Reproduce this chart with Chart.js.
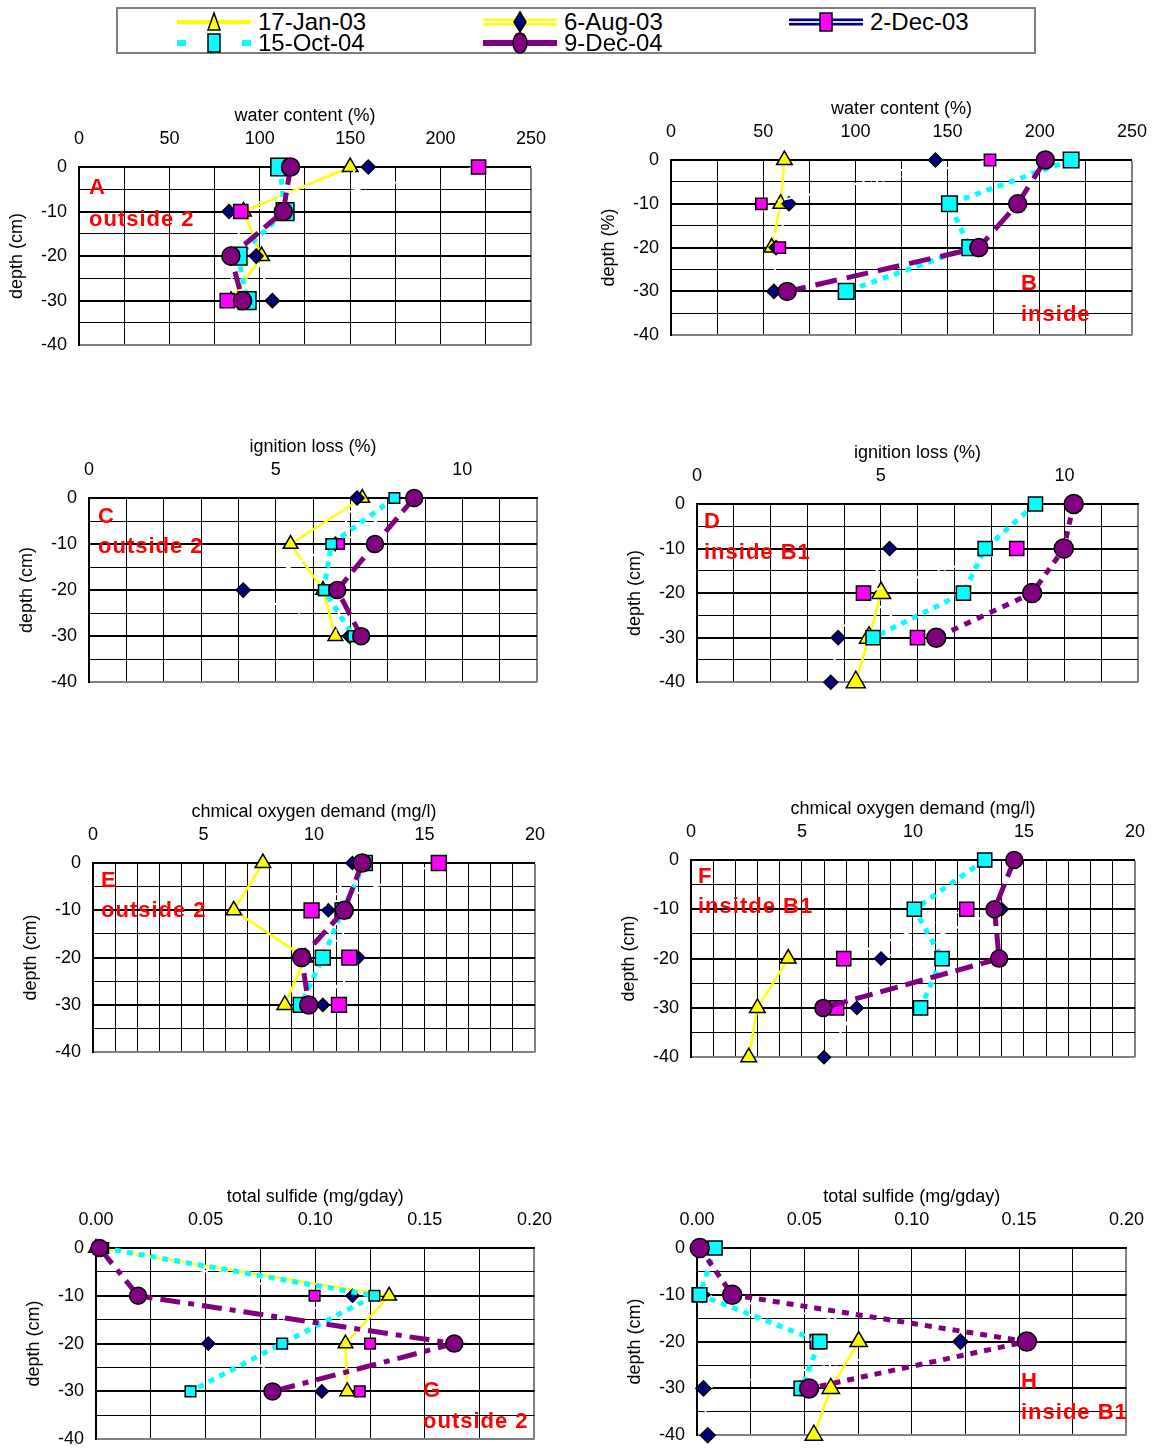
<!DOCTYPE html>
<html>
<head>
<meta charset="utf-8">
<title>sediment profiles</title>
<script src="https://cdn.jsdelivr.net/npm/chart.js@4.4.1/dist/chart.umd.min.js"></script>
<style>
  html, body { margin: 0; padding: 0; background: #fff; }
  body { position: relative; width: 1155px; height: 1448px; overflow: hidden;
         font-family: "Liberation Sans", Arial, sans-serif; }
  canvas.panel { position: absolute; }
  .tag { position: absolute; color: #ff0000; font-weight: bold; font-size: 22px;
         line-height: 22px; letter-spacing: 1px; white-space: nowrap; }
  #legend { position: absolute; left: 116px; top: 7px; width: 920px; height: 47px;
            border: 2px solid #7f7f7f; box-sizing: border-box; }
  .key { position: absolute; width: 300px; height: 24px; }
  .key canvas { position: absolute; left: 0; top: 0; }
  .key span { position: absolute; left: 84px; top: 0; font-size: 24px; line-height: 24px; white-space: nowrap; }
</style>
</head>
<body>
<div id="legend"></div>
<script>
// depth of each sample (cm)
const depths = [0, -10, -20, -30, -40];
const seriesNames = ["17-Jan-03", "6-Aug-03", "2-Dec-03", "15-Oct-04", "9-Dec-04"];

// one row per sampling date (order of seriesNames), one value per depth
const waterOutside = [
  [150, 91, 101, 84, null],
  [160, 83, 98, 107, null],
  [221, 89.5, 87, 82, null],
  [111, 114, 88, 93, null],
  [117, 113, 84, 90.5, null]
];
const waterInside = [
  [61.5, 59.5, 54.6, null, null],
  [143.4, 64, 57, 55.8, null],
  [173, 49, 59, null, null],
  [217, 151, 162, 95, null],
  [203, 188, 167, 63, null]
];
const ignitionOutside = [
  [7.32, 5.4, 6.27, 6.6, null],
  [7.18, 6.6, 4.13, 6.98, null],
  [8.7, 6.7, 6.3, 7.08, null],
  [8.18, 6.49, 6.29, 7.08, null],
  [8.71, 7.66, 6.65, 7.29, null]
];
const ignitionInside = [
  [null, null, 5.01, 4.68, 4.32],
  [null, 5.24, null, 3.84, 3.64],
  [null, 8.7, 4.53, 6.0, null],
  [9.21, 7.84, 7.25, 4.79, null],
  [10.25, 9.98, 9.12, 6.51, null]
];
const codOutside = [
  [7.69, 6.37, 9.6, 8.68, null],
  [11.74, 10.65, 12.0, 10.4, null],
  [15.65, 9.89, 11.6, 11.13, null],
  [12.3, 11.29, 10.4, 9.4, null],
  [12.18, 11.37, 9.44, 9.76, null]
];
const codInside = [
  [null, null, 4.38, 2.99, 2.6],
  [null, 14.0, 8.56, 7.47, 5.99],
  [null, 12.42, 6.88, 6.56, null],
  [13.23, 10.06, 11.31, 10.34, null],
  [14.56, 13.67, 13.88, 5.96, null]
];
const sulfideOutside = [
  [0.0, 0.1337, 0.1138, 0.1146, null],
  [0.002, 0.117, 0.0512, 0.103, null],
  [0.002, 0.0997, 0.125, 0.1203, null],
  [0.0033, 0.127, 0.0849, 0.0431, null],
  [0.0016, 0.0192, 0.1634, 0.0805, null]
];
const sulfideInside = [
  [null, null, 0.0753, 0.0623, 0.0544],
  [null, 0.0025, 0.1227, 0.003, 0.005],
  [null, 0.001, 0.056, 0.051, null],
  [0.0084, 0.0013, 0.0572, 0.0485, null],
  [0.0013, 0.0164, 0.1536, 0.0522, null]
];

const seriesStyles = [
  { line: "#ffff00", width: 2.5, dash: [], point: "triangle", fill: "#ffff00" },
  { line: "#ffffff", width: 2, dash: [10, 4, 2, 4], point: "rectRot", fill: "#000080" },
  { line: "#ffffff", width: 2, dash: [10, 4, 2, 4], point: "rect", fill: "#ff00ff" },
  { line: "#00ffff", width: 5, dash: [6, 6], point: "rect", fill: "#00ffff" },
  { line: "#800080", width: 5, dash: [18, 8], point: "circle", fill: "#800080" }
];

// plot: [left, top, right, bottom] of the plot area on the page
// pointR: marker radius per series in that panel
const panels = [
  { values: waterOutside, xMax: 250, xStep: 25, labelStep: 50, decimals: 0,
    xTitle: "water content (%)", yTitle: "depth (cm)", plot: [79, 167, 531, 346],
    purpleDash: [18, 8], pointR: [9, 7, 10, 12.5, 9],
    tags: [["A", 89, 187], ["outside 2", 89, 219]] },
  { values: waterInside, xMax: 250, xStep: 25, labelStep: 50, decimals: 0,
    xTitle: "water content (%)", yTitle: "depth (%)", plot: [671, 160, 1132, 336],
    purpleDash: [22, 10], pointR: [9, 7, 8, 11, 9],
    tags: [["B", 1021, 283], ["inside", 1021, 314]] },
  { values: ignitionOutside, xMax: 12, xStep: 1, labelStep: 5, decimals: 0,
    xTitle: "ignition loss (%)", yTitle: "depth (cm)", plot: [89, 498, 537, 683],
    purpleDash: [18, 8], pointR: [8.5, 7, 7.5, 7.5, 8.5],
    tags: [["C", 98, 516], ["outside 2", 98, 546]] },
  { values: ignitionInside, xMax: 12, xStep: 1, labelStep: 5, decimals: 0,
    xTitle: "ignition loss (%)", yTitle: "depth (cm)", plot: [697, 504, 1138, 683],
    purpleDash: [7, 7], pointR: [11, 7, 10, 10, 9.5],
    tags: [["D", 704, 521], ["inside B1", 704, 552]] },
  { values: codOutside, xMax: 20, xStep: 1, labelStep: 5, decimals: 0,
    xTitle: "chmical oxygen demand (mg/l)", yTitle: "depth (cm)", plot: [93, 863, 535, 1053],
    purpleDash: [18, 8], pointR: [9, 6.5, 10.5, 10.5, 9],
    tags: [["E", 101, 880], ["outside 2", 101, 910]] },
  { values: codInside, xMax: 20, xStep: 1, labelStep: 5, decimals: 0,
    xTitle: "chmical oxygen demand (mg/l)", yTitle: "depth (cm)", plot: [691, 860, 1135, 1058],
    purpleDash: [18, 8], pointR: [9, 6.5, 10, 10, 8.5],
    tags: [["F", 698, 876], ["insitde B1", 698, 906]] },
  { values: sulfideOutside, xMax: 0.2, xStep: 0.025, labelStep: 0.05, decimals: 2,
    xTitle: "total sulfide (mg/gday)", yTitle: "depth (cm)", plot: [96, 1248, 535, 1440],
    purpleDash: [20, 8, 6, 8], pointR: [8.5, 6.5, 7.5, 7.5, 8.5],
    tags: [["G", 423, 1390], ["outside 2", 423, 1421]] },
  { values: sulfideInside, xMax: 0.2, xStep: 0.025, labelStep: 0.05, decimals: 2,
    xTitle: "total sulfide (mg/gday)", yTitle: "depth (cm)", plot: [697, 1248, 1127, 1436],
    purpleDash: [7, 7], pointR: [10, 7.5, 10, 10, 9.5],
    tags: [["H", 1021, 1381], ["inside B1", 1021, 1412]] }
];

Chart.defaults.font.family = "'Liberation Sans', Arial, sans-serif";
Chart.defaults.font.size = 18;
Chart.defaults.color = "#000";

const AXIS_W = 80, AXIS_H = 70, PAD_R = 12, PAD_B = 8;

function isMultiple(v, step) {
  const r = v / step;
  return Math.abs(r - Math.round(r)) < 1e-6;
}

function buildDatasets(panel) {
  return panel.values.map((row, i) => {
    const pts = [];
    row.forEach((v, k) => { if (v !== null) pts.push({ x: v, y: depths[k] }); });
    const s = seriesStyles[i];
    return {
      label: seriesNames[i],
      data: pts,
      showLine: true,
      borderColor: s.line,
      borderWidth: s.width,
      borderDash: i === 4 ? panel.purpleDash : s.dash,
      pointStyle: s.point,
      pointRadius: panel.pointR[i],
      pointBackgroundColor: s.fill,
      pointBorderColor: "#000",
      pointBorderWidth: 1.5,
      order: seriesNames.length - i,
      clip: false
    };
  });
}

function makeConfig(panel) {
  const atMax = v => Math.abs(v - panel.xMax) < 1e-9;
  return {
    type: "scatter",
    data: { datasets: buildDatasets(panel) },
    options: {
      responsive: false,
      maintainAspectRatio: false,
      animation: false,
      events: [],
      layout: { padding: { left: 0, top: 0, right: PAD_R, bottom: PAD_B } },
      plugins: { legend: { display: false }, tooltip: { enabled: false } },
      scales: {
        x: {
          type: "linear",
          position: "top",
          min: 0,
          max: panel.xMax,
          afterFit: s => { s.height = AXIS_H; },
          title: { display: true, text: panel.xTitle, padding: { top: 8, bottom: 0 } },
          border: { color: "#000", width: 2 },
          grid: {
            drawTicks: false,
            color: c => atMax(c.tick.value) ? "#808080" : "#000",
            lineWidth: c => atMax(c.tick.value) ? 2 : 1
          },
          ticks: {
            stepSize: panel.xStep,
            autoSkip: false,
            maxRotation: 0,
            minRotation: 0,
            padding: 17,
            callback: v => isMultiple(v, panel.labelStep) ? Number(v).toFixed(panel.decimals) : ""
          }
        },
        y: {
          type: "linear",
          position: "left",
          min: -40,
          max: 0,
          afterFit: s => { s.width = AXIS_W; },
          title: { display: true, text: panel.yTitle, padding: { top: 7, bottom: 0 } },
          border: { color: "#000", width: 2 },
          grid: {
            drawTicks: false,
            color: c => c.tick.value === -40 ? "#808080" : "#000",
            lineWidth: c => (c.tick.value % 10 === 0) ? 2 : 1
          },
          ticks: {
            stepSize: 5,
            autoSkip: false,
            padding: 12,
            callback: v => (v % 10 === 0) ? String(v) : ""
          }
        }
      }
    }
  };
}

panels.forEach(panel => {
  const [L, T, R, B] = panel.plot;
  const canvas = document.createElement("canvas");
  canvas.className = "panel";
  canvas.width = AXIS_W + (R - L) + PAD_R;
  canvas.height = AXIS_H + (B - T) + PAD_B;
  document.body.appendChild(canvas);

  // first pass: find how much room the library keeps round the plot area
  let chart = new Chart(canvas.getContext("2d"), makeConfig(panel));
  const area = chart.chartArea;
  const extraW = (R - L) - (area.right - area.left);
  const extraH = (B - T) - (area.bottom - area.top);
  const offL = area.left, offT = area.top;
  chart.destroy();

  canvas.width = canvas.width + extraW;
  canvas.height = canvas.height + extraH;
  canvas.style.width = canvas.width + "px";
  canvas.style.height = canvas.height + "px";
  canvas.style.left = (L - offL) + "px";
  canvas.style.top = (T - offT) + "px";
  chart = new Chart(canvas.getContext("2d"), makeConfig(panel));

  panel.tags.forEach(([text, x, cy]) => {
    const d = document.createElement("div");
    d.className = "tag";
    d.textContent = text;
    d.style.left = x + "px";
    d.style.top = (cy - 11) + "px";
    document.body.appendChild(d);
  });
});

// legend
const keyPlaces = [[174, 10], [480, 10], [786, 10], [174, 31], [480, 31]];

function drawKey(canvas, i) {
  const c = canvas.getContext("2d");
  const y = 12, mid = 40;
  function line(color, w, dash) {
    c.save();
    c.strokeStyle = color;
    c.lineWidth = w;
    c.setLineDash(dash);
    c.beginPath();
    c.moveTo(3, y);
    c.lineTo(77, y);
    c.stroke();
    c.restore();
  }
  if (i === 0) line("#ffff00", 4, []);
  if (i === 1) { line("#ffff00", 7, []); line("#ffffff", 2, []); }
  if (i === 2) { line("#000080", 7, []); line("#d8d8e8", 2, []); }
  if (i === 3) line("#00ffff", 6, [9, 56]);
  if (i === 4) line("#800080", 6, [34, 8]);
  c.fillStyle = seriesStyles[i].fill;
  c.strokeStyle = "#000";
  c.lineWidth = 1.5;
  c.beginPath();
  if (i === 0) { c.moveTo(mid, y - 9); c.lineTo(mid + 6, y + 8); c.lineTo(mid - 6, y + 8); c.closePath(); }
  if (i === 1) { c.moveTo(mid, y - 10); c.lineTo(mid + 6, y); c.lineTo(mid, y + 10); c.lineTo(mid - 6, y); c.closePath(); }
  if (i === 2 || i === 3) { c.rect(mid - 6, y - 9, 12, 18); }
  if (i === 4) { c.ellipse(mid, y, 7, 10, 0, 0, Math.PI * 2); }
  c.fill();
  c.stroke();
}

seriesNames.forEach((name, i) => {
  const box = document.createElement("div");
  box.className = "key";
  box.style.left = keyPlaces[i][0] + "px";
  box.style.top = keyPlaces[i][1] + "px";
  const cv = document.createElement("canvas");
  cv.width = 80;
  cv.height = 24;
  const sp = document.createElement("span");
  sp.textContent = name;
  box.appendChild(cv);
  box.appendChild(sp);
  document.body.appendChild(box);
  drawKey(cv, i);
});
</script>
</body>
</html>
